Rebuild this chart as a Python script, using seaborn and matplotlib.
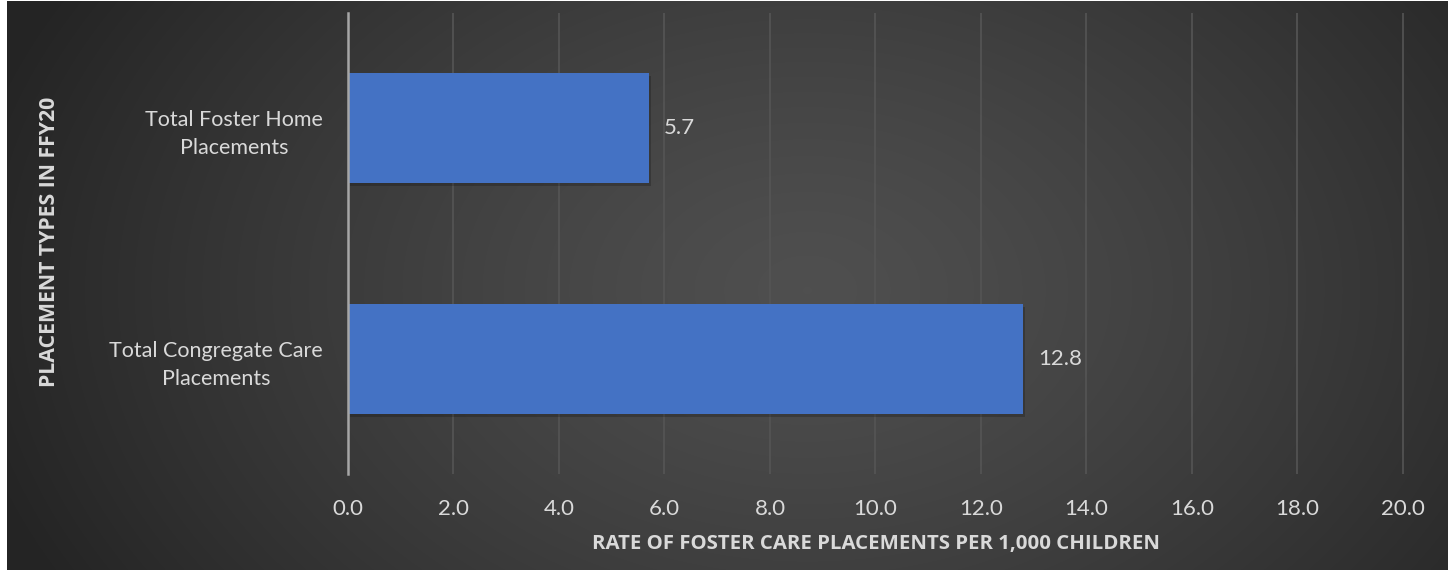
import numpy as np
import pandas as pd
import matplotlib
matplotlib.use("Agg")
import matplotlib.pyplot as plt
import matplotlib.patheffects as pe
import seaborn as sns

# data
categories = ["Total Foster Home\nPlacements", "Total Congregate Care\nPlacements"]
rates = [5.7, 12.8]
xticks = [0, 2, 4, 6, 8, 10, 12, 14, 16, 18, 20]

df = pd.DataFrame({"Placement": categories, "Rate": rates})

sns.set_style("dark")
plt.rcParams["font.family"] = ["Lato", "DejaVu Sans"]

W, H = 1448, 571
fig = plt.figure(figsize=(W / 100, H / 100), dpi=100)
fig.patch.set_facecolor("white")

# radial gradient background
bg = fig.add_axes([7 / W, 1 / H, (W - 7) / W, (H - 2) / H])
yy, xx = np.mgrid[0:H, 0:W - 7]
cx, cy = 800, 290
r = np.sqrt(((xx - cx) / 850.0) ** 2 + ((yy - cy) / 600.0) ** 2)
r = np.clip(r, 0, 1) ** 1.3
shade = 0.31 - (0.31 - 0.145) * r
bg.imshow(np.dstack([shade] * 3), aspect="auto", interpolation="bilinear")
bg.axis("off")

ax = fig.add_axes([348 / W, (H - 474) / H, (1404 - 348) / W, (474 - 13) / H])
ax.patch.set_alpha(0)

sns.barplot(data=df, x="Rate", y="Placement", orient="h", color="#4472C4",
            saturation=1, width=0.477, linewidth=0, edgecolor="none", ax=ax, zorder=3)
for bar in ax.patches:
    bar.set_path_effects([pe.SimplePatchShadow(offset=(1.5, -2), shadow_rgbFace="black", alpha=0.2),
                          pe.Normal()])

txt = "#d9d9d9"
for bar, v in zip(ax.patches, rates):
    ax.annotate(f"{v:.1f}", (bar.get_width(), bar.get_y() + bar.get_height() / 2),
                xytext=(11, 0), textcoords="offset points", va="center", ha="left",
                color=txt, fontsize=16)

ax.set_xlim(0, 20.02)
ax.set_xticks(xticks)
ax.set_xticklabels([f"{t:.1f}" for t in xticks], color=txt, fontsize=16)
ax.tick_params(axis="x", length=0, pad=18)
ax.tick_params(axis="y", length=0, pad=18, labelsize=15.5, labelcolor=txt)
for lab in ax.get_yticklabels():
    lab.set_multialignment("center")
    lab.set_linespacing(1.5)

ax.grid(axis="x", color="#555555", linewidth=1.2, zorder=0)
ax.grid(axis="y", visible=False)
for s in ["top", "right", "bottom"]:
    ax.spines[s].set_visible(False)
ax.spines["left"].set_color("#a6a6a6")
ax.spines["left"].set_linewidth(1.8)
ax.spines["left"].set_zorder(4)

ax.set_xlabel("RATE OF FOSTER CARE PLACEMENTS PER 1,000 CHILDREN", color=txt,
              fontsize=14.7, fontweight="bold", family=["Open Sans", "DejaVu Sans"], labelpad=11)
ax.set_ylabel("")
fig.text(50 / W, 1 - 242 / H, "PLACEMENT TYPES IN FFY20", rotation=90, color=txt,
         fontsize=15.3, fontweight="bold", family=["Open Sans", "DejaVu Sans"],
         ha="center", va="center")

fig.savefig("out.png", dpi=100)
